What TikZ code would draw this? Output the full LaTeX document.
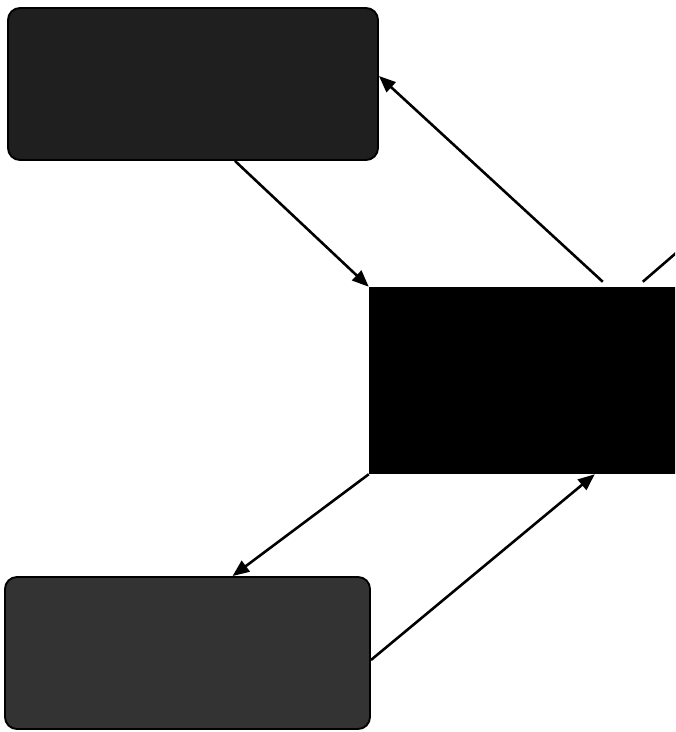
\documentclass[tikz,border=0pt]{standalone}
\usetikzlibrary{arrows.meta}

\begin{document}
\begin{tikzpicture}[x=0.03cm,y=-0.03cm,
	box/.style={draw=black,line width=1.6pt,rounded corners=0.36cm,inner sep=0pt,minimum height=4.56cm},
	link/.style={line width=2.2pt,-{Triangle[length=0.5cm,width=0.4cm]}}]
	
	\useasboundingbox (0,0) rectangle (675,732);
	\clip (0,0) rectangle (675,732);
	
	% Boxes
	\node[box,fill=black!88,minimum width=11.1cm] (upper) at (193,84) {};
	\node[box,fill=black!80,minimum width=10.95cm] (lower) at (187.5,653) {};
	
	% Core
	\node[fill=black,inner sep=0pt,minimum width=10.53cm,minimum height=5.61cm] (core) at (544.5,380.5) {};
	
	% Links
	\draw[link] ([xshift=1.26cm]upper.south) -- (core.north west);
	\draw[link] ([xshift=7.02cm,yshift=0.15cm]core.north west) -- ([yshift=0.24cm]upper.east);
	\coordinate (away) at (705,228);
	\draw[line width=2.2pt] ([xshift=8.22cm,yshift=0.15cm]core.north west) -- (away);
	\draw[link] (core.south west) -- ([xshift=1.35cm]lower.north);
	\draw[link] ([yshift=-0.21cm]lower.east) -- ([xshift=6.78cm]core.south west);
	
\end{tikzpicture}
\end{document}
